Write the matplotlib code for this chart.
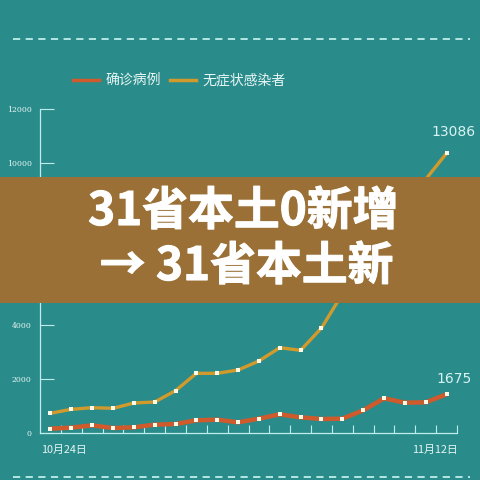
import matplotlib
matplotlib.use("Agg")
import matplotlib.pyplot as plt
import matplotlib.patheffects as pe
import numpy as np

plt.rcParams['font.family'] = ['Noto Sans CJK SC', 'DejaVu Sans']

# données
jours = ["10月24日", "11月12日"]
confirmes = [160, 198, 284, 185, 210, 309, 333, 469, 494, 395,
             531, 691, 580, 519, 531, 840, 1284, 1123, 1136, 1433]
asympto = [730, 877, 938, 914, 1111, 1148, 1568, 2210, 2210, 2333,
           2667, 3160, 3062, 3889, 5150, 6000, 7000, 8200, 9400, 10360]
etiquettes = ["1675", "13086"]
series = ["确诊病例", "无症状感染者"]
yticks = [0, 2000, 4000, 6000, 8000, 10000, 12000]

bg = "#2a8b8b"
clair = "#bfeeea"
rouge = "#cf5a2c"
jaune = "#d09a2c"

fig = plt.figure(figsize=(4.8, 4.8), dpi=100, facecolor=bg)
ax = fig.add_axes([40/480, (480-433)/480, (457-40)/480, (433-109)/480])
ax.set_facecolor(bg)

x = np.arange(len(confirmes))
ax.plot(x, confirmes, color=rouge, lw=3.2, solid_capstyle='round', zorder=3)
ax.plot(x, asympto, color=jaune, lw=2.4, solid_capstyle='round', zorder=3)
ax.scatter(x, confirmes, marker='s', s=7, color='#fffbe8', zorder=4, lw=0)
ax.scatter(x, asympto, marker='s', s=7, color='#fffbe8', zorder=4, lw=0)

ax.set_xlim(-0.5, len(x) - 0.5)
ax.set_ylim(0, 12000)
for s in ['top', 'right']:
    ax.spines[s].set_visible(False)
ax.spines['left'].set_color(clair)
ax.spines['bottom'].set_color(clair)
ax.spines['left'].set_linewidth(0.9)
ax.spines['bottom'].set_linewidth(0.9)

ax.set_yticks(yticks)
ax.set_yticklabels([str(v) for v in yticks], family='DejaVu Serif',
                   fontsize=5.6, color='#e6f6f4')
ax.tick_params(axis='y', direction='in', length=10, width=0.8,
               color=clair, pad=6)
ax.set_xticks(np.arange(0.5, len(x), 1.0))
ax.set_xticklabels([])
ax.tick_params(axis='x', direction='in', length=6, width=0.8, color=clair)

# dates aux extrémités
ax.text(-0.45, -450, jours[0], ha='left', va='top', fontsize=7.8, color='#e6f6f4')
ax.text(len(x) - 0.45, -450, jours[1], ha='right', va='top', fontsize=7.8, color='#e6f6f4')

ax.text(x[-1] + 0.35, confirmes[-1] + 300, etiquettes[0], ha='center', va='bottom',
        fontsize=10, color='#d8f4f2', family='DejaVu Sans')
ax.text(x[-1] + 0.35, asympto[-1] + 530, etiquettes[1], ha='center', va='bottom',
        fontsize=10, color='#d8f4f2', family='DejaVu Sans')

# légende
fig.add_artist(plt.Line2D([73/480, 99/480], [1 - 80/480] * 2, color=rouge, lw=2.5))
fig.text(106/480, 1 - 80/480, series[0], fontsize=10, color='#e8f6f4', va='center')
fig.add_artist(plt.Line2D([170/480, 196/480], [1 - 80/480] * 2, color=jaune, lw=2.5))
fig.text(202/480, 1 - 80/480, series[1], fontsize=10, color='#e8f6f4', va='center')

# lignes pointillées
for yy in [39, 477]:
    fig.add_artist(plt.Line2D([13/480, 470/480], [1 - yy/480] * 2, color=clair,
                              lw=1.3, ls=(0, (4, 3))))

# bandeau
fig.patches.append(plt.Rectangle((0, 1 - 303/480), 1, 126/480, transform=fig.transFigure,
                                 facecolor="#9a7036", edgecolor='none', zorder=10))
gras = [pe.withStroke(linewidth=0.8, foreground='white')]
fig.text(0.507, 1 - 212/480, "31省本土0新增", fontsize=33, fontweight='bold',
         color='white', ha='center', va='center', zorder=11, path_effects=gras)
fig.text(0.514, 1 - 267/480, "→ 31省本土新", fontsize=33, fontweight='bold',
         color='white', ha='center', va='center', zorder=11, path_effects=gras)

fig.savefig("out.png", dpi=100, facecolor=bg)
